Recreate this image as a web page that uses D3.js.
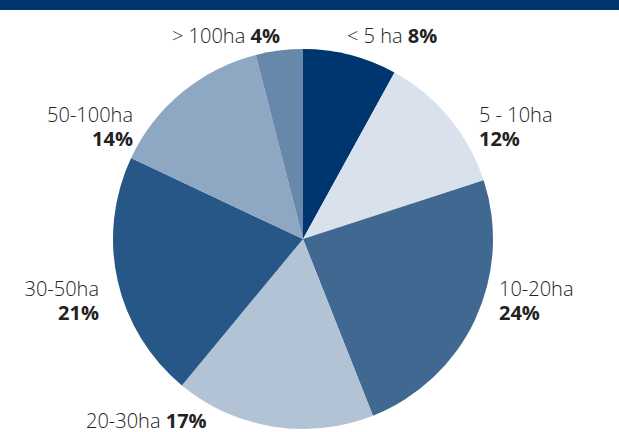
<!DOCTYPE html>
<html>
<head>
<meta charset="utf-8">
<script src="https://cdn.jsdelivr.net/npm/d3@7"></script>
<style>
html,body{margin:0;padding:0;background:#fff;}
svg{display:block;}
text{font-family:"Open Sans","Noto Sans",sans-serif;font-size:20px;fill:#222;}
</style>
</head>
<body>
<svg id="chart" width="619" height="432"></svg>
<script>
const categories = ["< 5 ha", "5 - 10ha", "10-20ha", "20-30ha", "30-50ha", "50-100ha", "> 100ha"];
const values = [8, 12, 24, 17, 21, 14, 4];
const valueLabels = ["8%", "12%", "24%", "17%", "21%", "14%", "4%"];
const colors = ["#003670", "#d9e1ec", "#416891", "#b3c3d6", "#275787", "#8ea7c3", "#6787ab"];

const svg = d3.select("#chart");
const W = 619, H = 432;
svg.append("rect").attr("x", 0).attr("y", 0).attr("width", W).attr("height", 10).attr("fill", "#003670");

const cx = 303, cy = 239, R = 190;
const data = categories.map((c, i) => ({cat: c, value: values[i], label: valueLabels[i], color: colors[i]}));
const pie = d3.pie().value(d => d.value).sort(null);
const arc = d3.arc().innerRadius(0).outerRadius(R);
const g = svg.append("g").attr("transform", `translate(${cx},${cy})`);
const arcs = pie(data);
g.selectAll("path").data(arcs).enter().append("path")
  .attr("d", arc).attr("fill", d => d.data.color);

const layout = [
  {mode: "inline", x: 347, y: 42.5, anchor: "start"},
  {mode: "stack", x: 479, y: 122, anchor: "start"},
  {mode: "stack", x: 499, y: 296, anchor: "start"},
  {mode: "inline", x: 86, y: 427.5, anchor: "start"},
  {mode: "stack", x: 99, y: 296, anchor: "end"},
  {mode: "stack", x: 133, y: 122, anchor: "end"},
  {mode: "inline", x: 172, y: 42.5, anchor: "start"}
];
data.forEach((d, i) => {
  const L = layout[i];
  const t = svg.append("text").attr("x", L.x).attr("y", L.y).attr("text-anchor", L.anchor);
  if (L.mode === "inline") {
    t.append("tspan").attr("font-weight", 300).text(d.cat + " ");
    t.append("tspan").attr("font-weight", 700).text(d.label);
  } else {
    t.append("tspan").attr("x", L.x).attr("font-weight", 300).text(d.cat);
    t.append("tspan").attr("x", L.x).attr("dy", 24).attr("font-weight", 700).text(d.label);
  }
});
</script>
</body>
</html>
